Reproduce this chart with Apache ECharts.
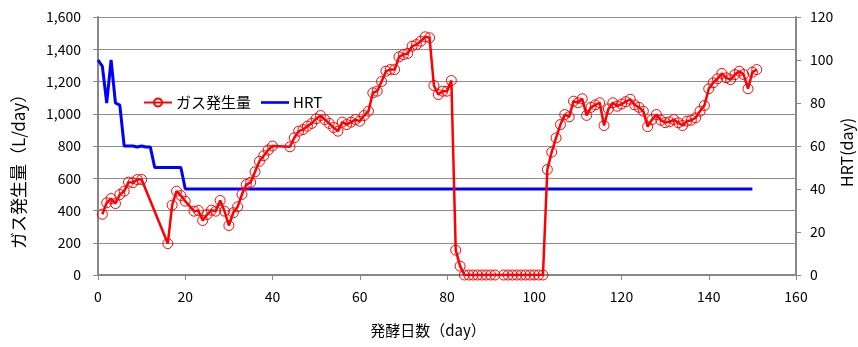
<!DOCTYPE html>
<html><head><meta charset="utf-8">
<script src="https://cdn.jsdelivr.net/npm/echarts@6/dist/echarts.min.js"></script>
<style>html,body{margin:0;padding:0;background:#fff}#c{width:858px;height:347px}</style>
</head><body><div id="c"></div>
<script>
var gasDays = [1,2,3,4,5,6,7,8,9,10,16,17,18,19,20,22,23,24,25,26,27,28,29,30,31,32,33,34,35,36,37,38,39,40,44,45,46,47,48,49,50,51,52,53,54,55,56,57,58,59,60,61,62,63,64,65,66,67,68,69,70,71,72,73,74,75,76,77,78,79,80,81,82,83,84,85,86,87,88,89,90,91,93,94,95,96,97,98,99,100,101,102,103,104,105,106,107,108,109,110,111,112,113,114,115,116,117,118,119,120,121,122,123,124,125,126,127,128,129,130,131,132,133,134,135,136,137,138,139,140,141,142,143,144,145,146,147,148,149,150,151];
var gasValues = [377,448,474,443,499,520,576,572,592,592,195,433,520,493,458,396,400,338,375,402,396,462,396,307,386,423,500,561,575,640,705,740,775,800,795,851,892,902,923,940,969,989,964,940,915,892,948,933,948,964,954,989,1016,1130,1140,1200,1264,1274,1274,1353,1367,1374,1419,1429,1450,1477,1471,1175,1119,1140,1140,1206,154,55,0,0,0,0,0,0,0,0,0,0,0,0,0,0,0,0,0,0,654,762,850,933,995,981,1078,1068,1093,990,1040,1055,1068,927,1030,1068,1047,1060,1075,1090,1055,1040,1016,920,964,995,960,945,950,964,944,927,954,960,975,1016,1051,1155,1192,1217,1250,1223,1212,1243,1264,1243,1155,1258,1274];
var hrtDays = [0,1,2,3,4,5,6,7,8,9,10,11,12,13,19,20,150];
var hrtValues = [100,97,80,100,80,79,60,60,60,59.5,60,59.5,59.5,50,50,40,40];
var xTicks = {min:0,max:160,interval:20};
var gasAxis = {min:0,max:1600,interval:200};
var hrtAxis = {min:0,max:120,interval:20};
var gasName = 'ガス発生量';
var hrtName = 'HRT';

function zip(a,b){return a.map(function(d,i){return [d,b[i]];});}
var FONT = "'Noto Sans CJK JP', 'DejaVu Sans', sans-serif";
var axisGray = '#888888';
var chart = echarts.init(document.getElementById('c'), null, {renderer:'canvas'});
chart.setOption({
  animation:false,
  textStyle:{fontFamily:FONT},
  grid:{left:98,right:62,top:17,bottom:72,containLabel:false},
  legend:{
    data:[{name:gasName},{name:hrtName,icon:'path://M0,0H32V3H0Z'}],
    left:138,top:90,itemWidth:28,itemHeight:10,itemGap:10,
    textStyle:{fontSize:15,color:'#000',fontFamily:FONT,padding:[0,0,0,-1]}
  },
  xAxis:{
    type:'value',min:xTicks.min,max:xTicks.max,interval:xTicks.interval,
    axisLine:{lineStyle:{color:axisGray,width:2}},
    axisTick:{show:true,length:5,lineStyle:{color:axisGray}},
    splitLine:{show:false},
    axisLabel:{fontSize:14,color:'#000',margin:15,fontFamily:FONT}
  },
  yAxis:[{
    type:'value',min:gasAxis.min,max:gasAxis.max,interval:gasAxis.interval,
    axisLine:{show:true,lineStyle:{color:axisGray,width:2}},
    axisTick:{show:true,length:5,lineStyle:{color:axisGray}},
    splitLine:{show:true,lineStyle:{color:'#8c8c8c',width:1}},
    axisLabel:{fontSize:14,color:'#000',margin:17,fontFamily:FONT,
      formatter:function(v){return v.toLocaleString('en-US');}}
  },{
    type:'value',position:'right',min:hrtAxis.min,max:hrtAxis.max,interval:hrtAxis.interval,
    axisLine:{show:true,lineStyle:{color:axisGray,width:2}},
    axisTick:{show:true,length:5,lineStyle:{color:axisGray}},
    splitLine:{show:false},
    axisLabel:{fontSize:14,color:'#000',margin:14,fontFamily:FONT}
  }],
  graphic:[
    {type:'text',x:19,y:249,rotation:Math.PI/2,style:{text:'ガス発生量（L/day）',font:'17px '+FONT,fill:'#000',textAlign:'left',textVerticalAlign:'middle'}},
    {type:'text',x:847,y:187,rotation:Math.PI/2,style:{text:'HRT(day)',font:'16px '+FONT,fill:'#000',textAlign:'left',textVerticalAlign:'middle'}},
    {type:'text',x:428,y:330,style:{text:'発酵日数（day）',font:'15px '+FONT,fill:'#000',textAlign:'center',textVerticalAlign:'middle'}}
  ],
  series:[{
    name:gasName,type:'line',yAxisIndex:0,z:3,
    data:zip(gasDays,gasValues),
    symbol:'circle',symbolSize:10,showAllSymbol:true,
    lineStyle:{color:'#ff0000',width:2.5},
    itemStyle:{color:'rgba(255,255,255,0)',borderColor:'#ff0000',borderWidth:1}
  },{
    name:hrtName,type:'line',yAxisIndex:1,z:2,
    data:zip(hrtDays,hrtValues),
    symbol:'none',
    lineStyle:{color:'#0000ff',width:3},
    itemStyle:{color:'#0000ff'}
  }]
});
</script></body></html>
